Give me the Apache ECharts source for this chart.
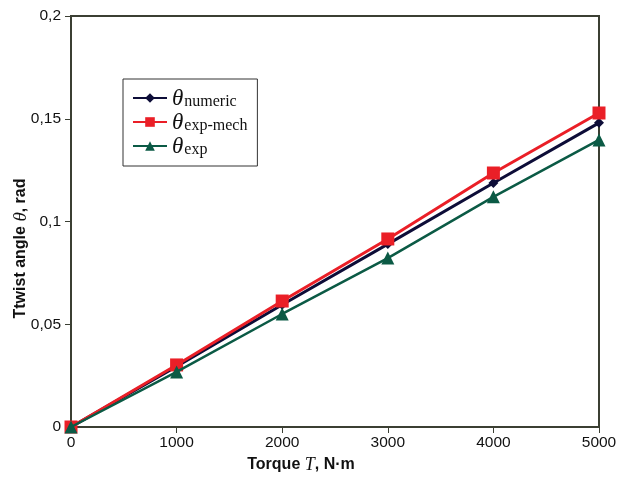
<!DOCTYPE html>
<html>
<head>
<meta charset="utf-8">
<script src="https://cdn.jsdelivr.net/npm/echarts@6/dist/echarts.min.js"></script>
<style>html,body{margin:0;padding:0;background:#fff}#c{width:622px;height:478px}</style>
</head>
<body>
<div id="c"></div>
<script>
const torque = [0, 1000, 2000, 3000, 4000, 5000];
const thetaNumeric = [0, 0.0295, 0.0595, 0.089, 0.1187, 0.148];
const thetaExpMech = [0, 0.0302, 0.0613, 0.0915, 0.1236, 0.1528];
const thetaExp = [0, 0.0268, 0.055, 0.0822, 0.112, 0.1397];
const yTicks = ['0', '0,05', '0,1', '0,15', '0,2'];

function pairs(ys){ return torque.map((x,i)=>[x, ys[i]]); }

const chart = echarts.init(document.getElementById('c'));
const axisColor = '#3b3f33';
chart.setOption({
  animation: false,
  grid: {left: 71, right: 23, top: 16, bottom: 51, show: true, borderColor: axisColor, borderWidth: 2, backgroundColor: 'transparent', containLabel: false, outerBoundsMode: 'none'},
  xAxis: {
    type: 'value', min: 0, max: 5000, interval: 1000,
    axisLine: {show: true, lineStyle: {color: axisColor, width: 2}},
    axisTick: {show: true, length: 6, lineStyle: {color: axisColor, width: 1}},
    splitLine: {show: false},
    axisLabel: {color: '#111', fontFamily: 'Liberation Sans, Arial', fontSize: 15.5, margin: 8, formatter: (v) => String(v)},
    name: '{b|Torque }{i|T}{b|, N·m}', nameLocation: 'middle', nameGap: 24,
    nameTextStyle: {padding: [0, 68, 0, 0], rich: {
      b: {fontFamily: 'Liberation Sans, Arial', fontWeight: 'bold', fontSize: 16, color: '#111'},
      i: {fontFamily: 'Liberation Serif, Times New Roman', fontStyle: 'italic', fontSize: 18, color: '#111'}
    }}
  },
  yAxis: {
    type: 'value', min: 0, max: 0.2, interval: 0.05,
    axisLine: {show: true, lineStyle: {color: axisColor, width: 2}},
    axisTick: {show: true, length: 6, lineStyle: {color: axisColor, width: 1}},
    splitLine: {show: false},
    axisLabel: {color: '#111', fontFamily: 'Liberation Sans, Arial', fontSize: 15.5, margin: 10,
      formatter: (v) => yTicks[Math.round(v / 0.05)]},
    name: '{b|Ttwist angle }{i|θ}{b|, rad}', nameLocation: 'middle', nameGap: 41, nameMoveOverlap: false,
    nameTextStyle: {padding: [0, 54, 0, 0], rich: {
      b: {fontFamily: 'Liberation Sans, Arial', fontWeight: 'bold', fontSize: 16, color: '#111'},
      i: {fontFamily: 'Liberation Serif, Times New Roman', fontStyle: 'italic', fontSize: 19, color: '#111'}
    }}
  },
  legend: {
    left: 123, top: 79, width: 120, orient: 'vertical',
    padding: [8, 10, 8, 9], itemGap: 1,
    borderColor: '#333', borderWidth: 1, backgroundColor: '#fff',
    itemWidth: 34, itemHeight: 12,
    data: ['numeric', 'exp-mech', 'exp'],
    formatter: (n) => '{t|θ}{s|' + n + '}',
    textStyle: {rich: {
      t: {fontFamily: 'Liberation Serif, Times New Roman', fontStyle: 'italic', fontSize: 23, color: '#111', verticalAlign: 'bottom'},
      s: {fontFamily: 'Liberation Serif, Times New Roman', fontSize: 16, color: '#111', padding: [8, 0, 0, 1], verticalAlign: 'bottom'}
    }}
  },
  series: [
    {name: 'numeric', type: 'line', data: pairs(thetaNumeric), symbol: 'diamond', symbolSize: 10,
      lineStyle: {color: '#0d0d38', width: 3}, itemStyle: {color: '#0d0d38'}, z: 2},
    {name: 'exp-mech', type: 'line', data: pairs(thetaExpMech), symbol: 'rect', symbolSize: 13,
      lineStyle: {color: '#ea1f27', width: 3}, itemStyle: {color: '#ea1f27'}, z: 3},
    {name: 'exp', type: 'line', data: pairs(thetaExp), symbol: 'triangle', symbolSize: 13,
      lineStyle: {color: '#0b5a45', width: 2.5}, itemStyle: {color: '#0b5a45'}, z: 4}
  ]
});
</script>
</body>
</html>
